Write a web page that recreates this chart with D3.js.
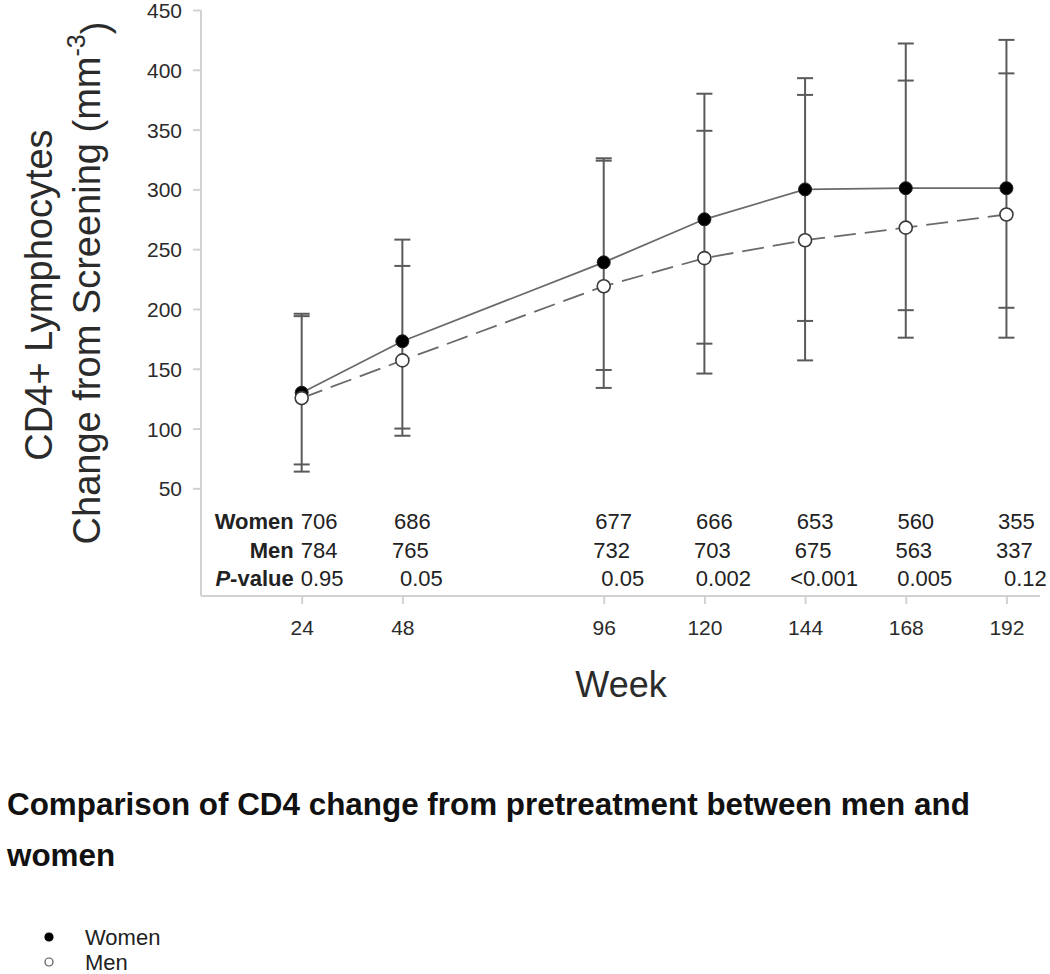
<!DOCTYPE html>
<html>
<head>
<meta charset="utf-8">
<script src="https://cdn.jsdelivr.net/npm/d3@7"></script>
<style>
  html, body { margin: 0; padding: 0; background: #fff; }
  svg { display: block; font-family: "Liberation Sans", Arial, Helvetica, sans-serif; }
</style>
</head>
<body>
<svg id="chart" width="1050" height="974"></svg>
<script>
// ---- data ----
const weeks = [24, 48, 96, 120, 144, 168, 192];
const womenMean  = [130, 173, 239, 275, 300, 301, 301];
const womenUpper = [196, 258, 326, 380, 393, 422, 425];
const womenLower = [64, 94, 149, 171, 190, 199, 201];
const menMean  = [125.5, 157, 219, 242.5, 257.5, 268, 279];
const menUpper = [194, 236, 324, 349, 379, 391, 397];
const menLower = [70, 100, 134, 146, 157, 176, 176];
const womenN = ["706", "686", "677", "666", "653", "560", "355"];
const menN   = ["784", "765", "732", "703", "675", "563", "337"];
const pValues = ["0.95", "0.05", "0.05", "0.002", "<0.001", "0.005", "0.12"];
const yTicks = [50, 100, 150, 200, 250, 300, 350, 400, 450];
const titleLines = ["Comparison of CD4 change from pretreatment between men and", "women"];
const legendItems = ["Women", "Men"];

// ---- layout ----
const svg = d3.select("#chart");
const x = d3.scaleLinear().domain([0, 200]).range([201, 1040]);
const y = d3.scaleLinear().domain([-40, 450]).range([596, 10]);
const axisColor = "#d2d2d2";
const textColor = "#2b2b2b";

// axes
const yAxis = svg.append("g").attr("transform", `translate(${x(0)},0)`)
  .call(d3.axisLeft(y).tickValues(yTicks).tickSize(8).tickPadding(11));
const xAxis = svg.append("g").attr("transform", `translate(0,${y(-40)})`)
  .call(d3.axisBottom(x).tickValues(weeks).tickSize(8).tickPadding(16));
[yAxis, xAxis].forEach(g => {
  g.select(".domain").remove();
  g.selectAll(".tick line").attr("stroke", axisColor).attr("stroke-width", 2);
  g.selectAll(".tick text").attr("fill", textColor).style("font-size", "21px")
    .style("font-family", "'Liberation Sans', Arial, sans-serif");
});
yAxis.selectAll(".tick text").attr("dy", "0.36em");
// axis lines (frame)
svg.append("line").attr("x1", x(0)).attr("x2", x(0)).attr("y1", y(450)).attr("y2", y(-40))
  .attr("stroke", axisColor).attr("stroke-width", 2);
svg.append("line").attr("x1", x(0)).attr("x2", x(200)).attr("y1", y(-40)).attr("y2", y(-40))
  .attr("stroke", axisColor).attr("stroke-width", 2);

// axis titles
const yTitle = svg.append("g").attr("fill", textColor).style("font-size", "38px");
yTitle.append("text").attr("transform", "translate(52,295) rotate(-90)")
  .attr("text-anchor", "middle").text("CD4+ Lymphocytes");
const t2 = yTitle.append("text").attr("transform", "translate(100,283) rotate(-90)")
  .attr("text-anchor", "middle");
t2.append("tspan").text("Change from Screening (mm");
t2.append("tspan").attr("dy", "-0.6em").style("font-size", "25px").text("-3");
t2.append("tspan").attr("dy", "0.6em").text(")");

svg.append("text").attr("x", 621).attr("y", 697).attr("text-anchor", "middle")
  .attr("fill", textColor).style("font-size", "36px").text("Week");

// ---- error bars ----
const bars = weeks.map((w, i) => ({
  w, top: Math.max(womenUpper[i], menUpper[i]), bot: Math.min(womenLower[i], menLower[i]),
  caps: [womenUpper[i], menUpper[i], womenLower[i], menLower[i]]
}));
const eb = svg.append("g").attr("stroke", "#5a5a5a").attr("stroke-width", 2);
eb.selectAll("line.v").data(bars).join("line").attr("class", "v")
  .attr("x1", d => x(d.w)).attr("x2", d => x(d.w))
  .attr("y1", d => y(d.top)).attr("y2", d => y(d.bot));
bars.forEach(d => {
  eb.selectAll(null).data(d.caps).join("line")
    .attr("x1", x(d.w) - 8).attr("x2", x(d.w) + 8)
    .attr("y1", v => y(v)).attr("y2", v => y(v));
});

// ---- lines ----
const line = d3.line().x(d => x(d[0])).y(d => y(d[1]));
svg.append("path").datum(weeks.map((w, i) => [w, menMean[i]]))
  .attr("d", line).attr("fill", "none").attr("stroke", "#6a6a6a")
  .attr("stroke-width", 1.8).attr("stroke-dasharray", "22,9");
svg.append("path").datum(weeks.map((w, i) => [w, womenMean[i]]))
  .attr("d", line).attr("fill", "none").attr("stroke", "#6a6a6a")
  .attr("stroke-width", 1.8);

// ---- markers ----
svg.append("g").selectAll("circle").data(weeks.map((w, i) => [w, womenMean[i]])).join("circle")
  .attr("cx", d => x(d[0])).attr("cy", d => y(d[1])).attr("r", 6.5)
  .attr("fill", "#000").attr("stroke", "#222").attr("stroke-width", 1);
svg.append("g").selectAll("circle").data(weeks.map((w, i) => [w, menMean[i]])).join("circle")
  .attr("cx", d => x(d[0])).attr("cy", d => y(d[1])).attr("r", 6.5)
  .attr("fill", "#fff").attr("stroke", "#3a3a3a").attr("stroke-width", 1.6);

// ---- table inside plot ----
const rows = [
  { label: "Women", vals: womenN, base: y(-40) - 67, off: 10 },
  { label: "Men", vals: menN, base: y(-40) - 38.5, off: 8 },
  { label: "P-value", vals: pValues, base: y(-40) - 10, off: 19 }
];
const tbl = svg.append("g").attr("fill", "#222").style("font-size", "22px");
rows.forEach(r => {
  const lab = tbl.append("text").attr("x", x(24) - 8).attr("y", r.base)
    .attr("text-anchor", "end").style("font-weight", "bold");
  if (r.label === "P-value") {
    lab.append("tspan").style("font-style", "italic").text("P");
    lab.append("tspan").text("-value");
  } else lab.text(r.label);
  tbl.selectAll(null).data(weeks).join("text")
    .attr("x", (w, i) => i === 0 ? x(w) - 1 : x(w) + r.off)
    .attr("y", r.base)
    .attr("text-anchor", (w, i) => i === 0 ? "start" : "middle")
    .text((w, i) => r.vals[i]);
});

// ---- title ----
svg.append("g").selectAll("text").data(titleLines).join("text")
  .attr("x", 7).attr("y", (d, i) => 815 + i * 51)
  .attr("fill", "#111").style("font-size", "31.4px").style("font-weight", "bold")
  .text(d => d);

// ---- legend ----
const lg = svg.append("g");
legendItems.forEach((name, i) => {
  const cy = 937 + i * 25;
  lg.append("circle").attr("cx", 49).attr("cy", cy).attr("r", 4)
    .attr("fill", i === 0 ? "#000" : "#fff").attr("stroke", i === 0 ? "#000" : "#555")
    .attr("stroke-width", 1.2);
  lg.append("text").attr("x", 85).attr("y", cy + 8).attr("fill", "#222")
    .style("font-size", "22px").text(name);
});
</script>
</body>
</html>
